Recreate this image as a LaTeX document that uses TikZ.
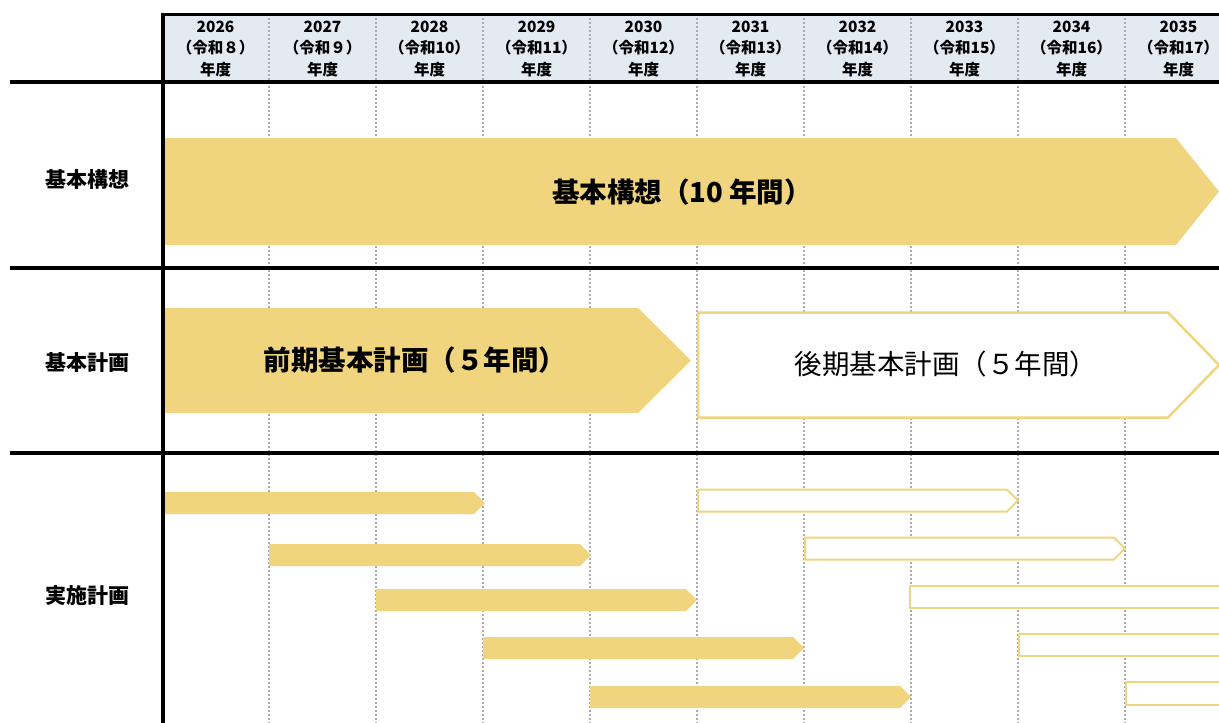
\documentclass[tikz,border=0pt]{standalone}
\usepackage{fontspec}
\setmainfont{Noto Sans CJK JP}
\definecolor{barY}{HTML}{F0D57E}
\definecolor{hdrB}{HTML}{E4EAF2}
\definecolor{dotG}{HTML}{ABABAB}
\tikzset{
  hdrtext/.style={font=\fontsize{15.5}{21.5}\selectfont\bfseries, align=center, inner sep=0pt},
  rowlabel/.style={font=\fontsize{21}{24}\selectfont\bfseries, inner sep=0pt},
  barlabel/.style={font=\fontsize{27.5}{30}\selectfont, inner sep=0pt},
  boldbarlabel/.style={font=\fontsize{27.5}{30}\selectfont\bfseries, inner sep=0pt},
  fillbar/.style={fill=barY, draw=none},
  outbar/.style={draw=barY, line width=2.5pt, fill=white},
  thickline/.style={line width=4pt, black},
  dotline/.style={dotG, line width=2pt, dash pattern=on 2pt off 2pt},
}
\begin{document}
\begin{tikzpicture}[x=1pt, y=-1pt]
\clip (0,0) rectangle (1219,723);
\fill[white] (0,0) rectangle (1219,723);
% header band
\fill[hdrB] (163,14) rectangle (1219,82);
% dotted column lines
\foreach \k in {1,...,9} {
  \draw[dotline] ({162+107*\k},14) -- ({162+107*\k},723);
}
% header texts
\node[hdrtext] (y2026) at (215.5,49) {2026\\（令和８）\\年度};
\node[hdrtext] (y2027) at (322.5,49) {2027\\（令和９）\\年度};
\node[hdrtext] (y2028) at (429.5,49) {2028\\（令和10）\\年度};
\node[hdrtext] (y2029) at (536.5,49) {2029\\（令和11）\\年度};
\node[hdrtext] (y2030) at (643.5,49) {2030\\（令和12）\\年度};
\node[hdrtext] (y2031) at (750.5,49) {2031\\（令和13）\\年度};
\node[hdrtext] (y2032) at (857.5,49) {2032\\（令和14）\\年度};
\node[hdrtext] (y2033) at (964.5,49) {2033\\（令和15）\\年度};
\node[hdrtext] (y2034) at (1071.5,49) {2034\\（令和16）\\年度};
\node[hdrtext] (y2035) at (1178.5,49) {2035\\（令和17）\\年度};
% big bars
\fill[fillbar] (165,138) -- (1176,138) -- (1219,191.5) -- (1176,245) -- (165,245) -- cycle;
\fill[fillbar] (165,308) -- (638,308) -- (691,360.5) -- (638,413) -- (165,413) -- cycle;
\draw[outbar] (698,312.5) -- (1168,312.5) -- (1219,365) -- (1168,417.5) -- (698,417.5) -- cycle;
\node[boldbarlabel] (kousou) at (682,192) {基本構想（10 年間）};
\node[boldbarlabel] (zenki) at (415,360) {前期基本計画（５年間）};
\node[barlabel] (kouki) at (946,364) {後期基本計画（５年間）};
% small filled bars
\fill[fillbar] (165,492) -- (474,492) -- (485,503) -- (474,514) -- (165,514) -- cycle;
\fill[fillbar] (269,544) -- (580,544) -- (591,555) -- (580,566) -- (269,566) -- cycle;
\fill[fillbar] (376,589) -- (686,589) -- (697,600) -- (686,611) -- (376,611) -- cycle;
\fill[fillbar] (483,637) -- (793,637) -- (804,648) -- (793,659) -- (483,659) -- cycle;
\fill[fillbar] (590,686) -- (900,686) -- (911,697) -- (900,708) -- (590,708) -- cycle;
% small outline bars
\draw[outbar, line width=2pt] (698,489.5) -- (1007,489.5) -- (1018,500.5) -- (1007,511.5) -- (698,511.5) -- cycle;
\draw[outbar, line width=2pt] (805,537.5) -- (1114,537.5) -- (1125,548.5) -- (1114,559.5) -- (805,559.5) -- cycle;
\draw[outbar, line width=2pt] (910,585.5) rectangle (1240,607.5);
\draw[outbar, line width=2pt] (1019,633.5) rectangle (1240,655.5);
\draw[outbar, line width=2pt] (1126,681.5) rectangle (1240,704.5);
% grid thick lines
\draw[thickline, line width=3pt] (163,14) -- (1219,14);
\draw[thickline] (10,82) -- (1219,82);
\draw[thickline] (10,268) -- (1219,268);
\draw[thickline] (10,453) -- (1219,453);
\draw[thickline] (163,12.5) -- (163,723);
% row labels
\node[rowlabel] (r1) at (87.5,180) {基本構想};
\node[rowlabel] (r2) at (87.5,363) {基本計画};
\node[rowlabel] (r3) at (87.5,596) {実施計画};
\end{tikzpicture}
\end{document}
